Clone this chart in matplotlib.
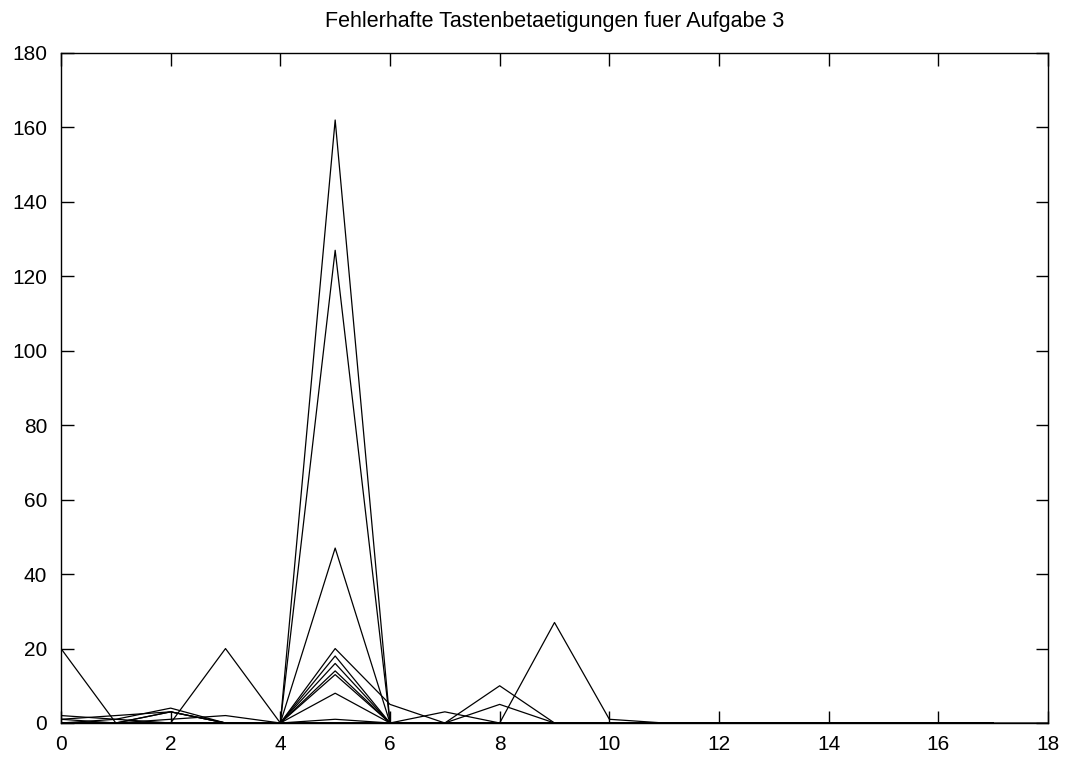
import matplotlib
matplotlib.use("Agg")
import matplotlib.pyplot as plt

# error counts per key position, one list per test person (x = 0..17)
x_pos = list(range(18))
person_01 = [0, 0, 3, 0, 0, 162, 0, 0, 0, 0, 0, 0, 0, 0, 0, 0, 0, 0]
person_02 = [1, 0, 0, 0, 0, 127, 0, 0, 0, 0, 0, 0, 0, 0, 0, 0, 0, 0]
person_03 = [0, 0, 0, 0, 0, 47, 0, 0, 0, 0, 0, 0, 0, 0, 0, 0, 0, 0]
person_04 = [0, 1, 0, 0, 0, 20, 5, 0, 0, 0, 0, 0, 0, 0, 0, 0, 0, 0]
person_05 = [0, 0, 0, 0, 0, 18, 0, 0, 0, 0, 0, 0, 0, 0, 0, 0, 0, 0]
person_06 = [0, 0, 0, 0, 0, 16, 0, 0, 0, 0, 0, 0, 0, 0, 0, 0, 0, 0]
person_07 = [0, 0, 0, 0, 0, 14, 0, 0, 0, 0, 0, 0, 0, 0, 0, 0, 0, 0]
person_08 = [0, 0, 0, 0, 0, 13, 0, 0, 0, 0, 0, 0, 0, 0, 0, 0, 0, 0]
person_09 = [0, 0, 0, 0, 0, 8, 0, 0, 0, 0, 0, 0, 0, 0, 0, 0, 0, 0]
person_10 = [0, 0, 1, 2, 0, 1, 0, 3, 0, 0, 0, 0, 0, 0, 0, 0, 0, 0]
person_11 = [20, 0, 0, 20, 0, 0, 0, 0, 0, 27, 1, 0, 0, 0, 0, 0, 0, 0]
person_12 = [2, 1, 4, 0, 0, 0, 0, 0, 10, 0, 0, 0, 0, 0, 0, 0, 0, 0]
person_13 = [1, 2, 3, 0, 0, 0, 0, 0, 5, 0, 0, 0, 0, 0, 0, 0, 0, 0]
# one run has an extra position
x_long = list(range(19))
person_14 = [0, 0, 3, 0, 0, 0, 0, 0, 0, 0, 0, 0, 0, 0, 0, 0, 0, 0, 0]

series = [person_01, person_02, person_03, person_04, person_05, person_06,
          person_07, person_08, person_09, person_10, person_11, person_12,
          person_13]

plt.rcParams['font.family'] = ['Liberation Sans', 'DejaVu Sans']

fig = plt.figure(figsize=(10.74, 7.6), dpi=100)
ax = fig.add_axes([61 / 1074, 1 - 723 / 760, (1048 - 61) / 1074, (723 - 53) / 760])

for s in series:
    ax.plot(x_pos, s, color='black', linewidth=0.9)
ax.plot(x_long, person_14, color='black', linewidth=0.9)

ax.set_xlim(0, 18)
ax.set_ylim(0, 180)
ax.set_xticks(range(0, 19, 2))
ax.set_yticks(range(0, 181, 20))
ax.tick_params(direction='in', length=9, width=1, top=True, right=True,
               labelsize=15)
ax.tick_params(axis='y', pad=10)
ax.tick_params(axis='x', pad=9)
for sp in ax.spines.values():
    sp.set_linewidth(1)

fig.text((61 + 1048) / 2 / 1074, 1 - 22 / 760,
         "Fehlerhafte Tastenbetaetigungen fuer Aufgabe 3",
         ha='center', va='center', fontsize=15.5)

fig.savefig("out.png", dpi=100)
